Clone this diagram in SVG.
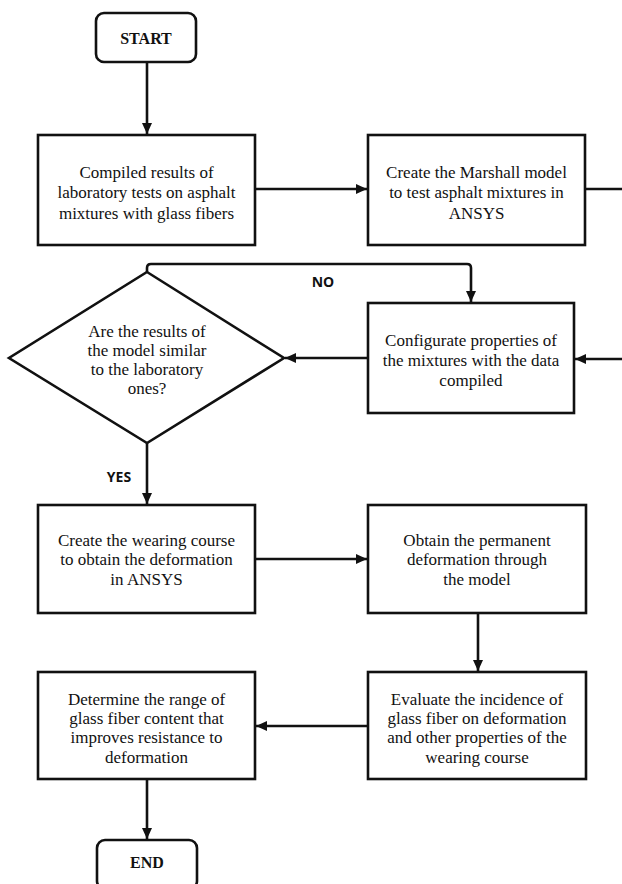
<svg xmlns="http://www.w3.org/2000/svg" width="622" height="884" viewBox="0 0 622 884">
<style>
.box{fill:#fff;stroke:#111;stroke-width:2.6}
.t{font-family:"Liberation Serif","Times New Roman",serif;font-size:17px;fill:#111;text-anchor:middle}
.tb{font-family:"Liberation Serif","Times New Roman",serif;font-size:16px;font-weight:bold;fill:#111;text-anchor:middle}
.lbl{font-family:"Open Sans","DejaVu Sans",sans-serif;font-size:14px;font-weight:bold;fill:#111;text-anchor:middle}
.c{fill:none;stroke:#111;stroke-width:2.6}
</style>
<defs>
<marker id="ah" markerUnits="userSpaceOnUse" markerWidth="12" markerHeight="12" viewBox="0 0 12 12" refX="11" refY="6" orient="auto">
<path d="M0,1 L11,6 L0,11 Z" fill="#111"/>
</marker>
</defs>
<rect width="622" height="884" fill="#fff"/>
<g id="connectors">
<path class="c" d="M147,62 V134" marker-end="url(#ah)"/>
<path class="c" d="M255,189 H367" marker-end="url(#ah)"/>
<path class="c" d="M585,189 H622"/>
<path class="c" d="M622,359 H575" marker-end="url(#ah)"/>
<path class="c" d="M368,358 H285" marker-end="url(#ah)"/>
<path class="c" d="M147,272 V268 Q147,264 151,264 H467 Q471,264 471,268 V302" marker-end="url(#ah)"/>
<path class="c" d="M147,443 V504" marker-end="url(#ah)"/>
<path class="c" d="M255,559 H367" marker-end="url(#ah)"/>
<path class="c" d="M478,613 V671" marker-end="url(#ah)"/>
<path class="c" d="M368,726 H256" marker-end="url(#ah)"/>
<path class="c" d="M147,779 V839" marker-end="url(#ah)"/>
<text class="lbl" x="323" y="287">NO</text>
<text class="lbl" x="119" y="482">YES</text>
</g>
<g id="start">
<rect class="box" x="96" y="13" width="100" height="49" rx="8"/>
<text class="tb" x="146" y="44">START</text>
</g>
<g id="compiled">
<rect class="box" x="38" y="135" width="217" height="110"/>
<text class="t" x="146.5" y="177.5">Compiled results of</text>
<text class="t" x="146.5" y="198">laboratory tests on asphalt</text>
<text class="t" x="146.5" y="218.5">mixtures with glass fibers</text>
</g>
<g id="marshall">
<rect class="box" x="368" y="135" width="217" height="110"/>
<text class="t" x="476.5" y="177.5">Create the Marshall model</text>
<text class="t" x="476.5" y="198">to test asphalt mixtures in</text>
<text class="t" x="476.5" y="218.5">ANSYS</text>
</g>
<g id="configurate">
<rect class="box" x="368" y="303" width="206" height="110"/>
<text class="t" x="471" y="345.5">Configurate properties of</text>
<text class="t" x="471" y="365.5">the mixtures with the data</text>
<text class="t" x="471" y="385.5">compiled</text>
</g>
<g id="decision">
<polygon class="box" points="147,272 284,358 147,443 9,358"/>
<text class="t" x="147" y="336.5">Are the results of</text>
<text class="t" x="147" y="355.5">the model similar</text>
<text class="t" x="147" y="374.5">to the laboratory</text>
<text class="t" x="147" y="393.5">ones?</text>
</g>
<g id="wearing">
<rect class="box" x="38" y="505" width="217" height="108"/>
<text class="t" x="146.5" y="545.5">Create the wearing course</text>
<text class="t" x="146.5" y="565">to obtain the deformation</text>
<text class="t" x="146.5" y="584.5">in ANSYS</text>
</g>
<g id="obtain">
<rect class="box" x="368" y="505" width="218" height="108"/>
<text class="t" x="477" y="545.5">Obtain the permanent</text>
<text class="t" x="477" y="565">deformation through</text>
<text class="t" x="477" y="584.5">the model</text>
</g>
<g id="evaluate">
<rect class="box" x="368" y="672" width="218" height="107"/>
<text class="t" x="477" y="704.5">Evaluate the incidence of</text>
<text class="t" x="477" y="723.5">glass fiber on deformation</text>
<text class="t" x="477" y="743">and other properties of the</text>
<text class="t" x="477" y="762.5">wearing course</text>
</g>
<g id="determine">
<rect class="box" x="38" y="672" width="217" height="107"/>
<text class="t" x="146.5" y="704.5">Determine the range of</text>
<text class="t" x="146.5" y="723.5">glass fiber content that</text>
<text class="t" x="146.5" y="743">improves resistance to</text>
<text class="t" x="146.5" y="762.5">deformation</text>
</g>
<g id="end">
<rect class="box" x="97" y="840" width="100" height="49" rx="8"/>
<text class="tb" x="147" y="868">END</text>
</g>
</svg>
